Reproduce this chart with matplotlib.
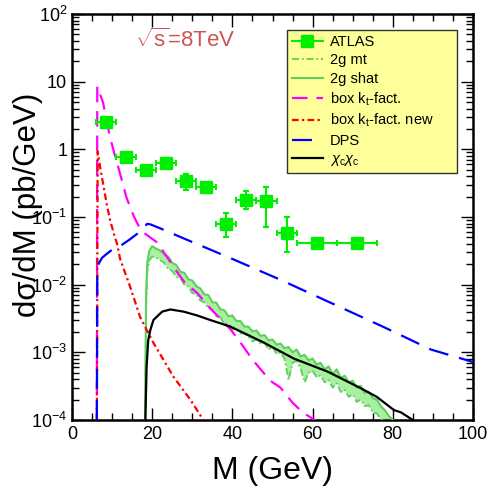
import numpy as np
import matplotlib
matplotlib.use("Agg")
import matplotlib.pyplot as plt
from matplotlib.lines import Line2D
from matplotlib.ticker import FixedLocator, FixedFormatter, LogLocator, NullFormatter, MultipleLocator

plt.rcParams['font.family'] = ['Liberation Sans', 'DejaVu Sans']
plt.rcParams['mathtext.fontset'] = 'custom'
plt.rcParams['mathtext.rm'] = 'Liberation Sans'
plt.rcParams['mathtext.it'] = 'Liberation Sans:italic'
plt.rcParams['mathtext.sf'] = 'Liberation Sans'

# ATLAS data: bin centres, half widths, cross sections and errors (pb/GeV)
atlas_m = [8.5, 13.5, 18.5, 23.5, 28.5, 33.5, 38.5, 43.5, 48.5, 53.5, 61.0, 71.0]
atlas_dm = [2.5, 2.5, 2.5, 2.5, 2.5, 2.5, 2.5, 2.5, 2.5, 2.5, 5.0, 5.0]
atlas_val = [2.5, 0.76, 0.49, 0.62, 0.34, 0.28, 0.08, 0.18, 0.17, 0.059, 0.041, 0.041]
atlas_lo = [0.3, 0.08, 0.07, 0.06, 0.09, 0.05, 0.03, 0.05, 0.10, 0.029, 0.006, 0.006]
atlas_hi = [0.3, 0.08, 0.06, 0.08, 0.09, 0.05, 0.035, 0.06, 0.11, 0.041, 0.006, 0.006]

# gluon-gluon fusion band: 2g shat (upper) and 2g mt (lower)
m_2g = [18.2, 18.5, 18.8, 19.3, 20, 21, 22, 23, 24, 25, 26, 27, 28, 29, 30, 31, 32, 33, 34, 35,
        36, 37, 38, 39, 40, 41, 42, 43, 44, 45, 46, 47, 48, 49, 50, 51, 52, 53, 54, 55,
        56, 57, 58, 59, 60, 61, 62, 63, 64, 65, 66, 67, 68, 69, 70, 71, 72, 73, 74, 75,
        76, 77, 78, 79, 80, 81]
shat_2g = [1e-4, 8e-3, 2.2e-2, 3.2e-2, 3.7e-2, 3.4e-2, 3.2e-2, 2.8e-2, 2.6e-2, 2.1e-2,
           1.95e-2, 1.55e-2, 1.5e-2, 1.2e-2, 1.15e-2, 9.5e-3, 8.8e-3, 7.2e-3, 7.0e-3, 5.5e-3,
           5.4e-3, 4.3e-3, 4.2e-3, 3.4e-3, 3.5e-3, 2.9e-3, 2.9e-3, 2.4e-3, 2.4e-3, 2.05e-3,
           2.1e-3, 1.75e-3, 1.8e-3, 1.5e-3, 1.55e-3, 1.3e-3, 1.35e-3, 1.15e-3, 1.2e-3, 1.0e-3,
           1.1e-3, 8.7e-4, 9.2e-4, 7.6e-4, 8.1e-4, 6.6e-4, 7.0e-4, 5.6e-4, 6.2e-4, 4.8e-4,
           5.6e-4, 4.2e-4, 4.5e-4, 3.6e-4, 3.8e-4, 3.0e-4, 3.2e-4, 2.5e-4, 2.6e-4, 2.1e-4,
           2.0e-4, 1.6e-4, 1.4e-4, 1.15e-4, 1.0e-4, 0.85e-4]
mt_2g = [1e-4, 5e-3, 1.6e-2, 2.3e-2, 2.6e-2, 2.5e-2, 2.3e-2, 2.1e-2, 1.7e-2, 1.6e-2,
         1.3e-2, 1.25e-2, 1.0e-2, 9.5e-3, 7.5e-3, 7.2e-3, 5.8e-3, 5.5e-3, 4.5e-3, 4.3e-3,
         3.4e-3, 3.3e-3, 2.6e-3, 2.6e-3, 2.2e-3, 2.2e-3, 1.9e-3, 1.9e-3, 1.7e-3, 1.45e-3,
         1.55e-3, 1.35e-3, 1.4e-3, 1.1e-3, 1.2e-3, 9.5e-4, 1.0e-3, 8.0e-4, 3.9e-4, 7.0e-4,
         7.5e-4, 5.8e-4, 3.6e-4, 5.0e-4, 5.3e-4, 4.3e-4, 4.6e-4, 3.6e-4, 3.9e-4, 3.0e-4,
         3.5e-4, 2.6e-4, 2.8e-4, 2.2e-4, 2.4e-4, 1.85e-4, 2.0e-4, 1.6e-4, 1.65e-4, 1.3e-4,
         1.25e-4, 1.05e-4, 0.95e-4, 0.85e-4, 0.75e-4, 0.65e-4]

# box contribution, kt-factorization
m_box = [6.2, 6.3, 7.0, 7.75, 8.5, 9.5, 10.5, 11.25, 12.0, 12.75, 13.5, 14.5, 15.5, 16.5, 18.0,
         19.5, 21.25, 22.75, 24.0, 26.0, 28.0, 31.25, 34.0, 36.0, 39.5, 42.0, 45.0, 48.0, 50.0,
         51.0, 52.0, 55.0, 57.5, 60.5]
box = [1e-4, 8.5, 6.5, 4.9, 2.9, 1.5, 0.9, 0.63, 0.43, 0.30, 0.2, 0.14, 0.1, 0.076, 0.058,
       0.05, 0.042, 0.031, 0.024, 0.016, 0.011, 0.0075, 0.0048, 0.0036, 0.0022, 0.0014, 7.8e-4,
       4.8e-4, 3.6e-4, 3.3e-4, 3.0e-4, 1.8e-4, 1.3e-4, 1e-4]

# box contribution, new kt-factorization
m_box_new = [6.2, 6.4, 7.0, 7.8, 8.7, 9.5, 10.5, 11.25, 12.0, 14.5, 17.0, 20.25, 25.25, 29.5, 32.75]
box_new = [1e-4, 0.93, 0.55, 0.3, 0.15, 0.09, 0.055, 0.04, 0.024, 0.0093, 0.0033, 0.0014,
           4.4e-4, 2.0e-4, 1e-4]

# double parton scattering
m_dps = [6.2, 6.3, 6.75, 7.5, 8.5, 10.3, 12.5, 14.5, 16.0, 17.0, 18.7, 19.5, 22.0, 27.25, 35.0,
         40.0, 52.0, 64.5, 77.5, 89.5, 100.0]
dps = [1e-4, 0.017, 0.021, 0.025, 0.028, 0.034, 0.039, 0.047, 0.055, 0.06, 0.079, 0.078, 0.068,
       0.05, 0.032, 0.024, 0.0118, 0.0054, 0.0024, 0.0011, 7.2e-4]

# chi_c chi_c feed-down
m_chic = [18.3, 18.6, 19.0, 19.5, 20.3, 21.25, 22.5, 24.5, 27.8, 31.25, 34.5, 39.5, 47.75, 55.3,
          63.7, 72.0, 76.0, 80.3, 82.0, 83.7, 85.0]
chic = [1e-4, 6e-4, 1.5e-3, 2.1e-3, 3.0e-3, 3.4e-3, 4.0e-3, 4.3e-3, 4.0e-3, 3.5e-3, 3.0e-3,
        2.4e-3, 1.4e-3, 8.1e-4, 5.2e-4, 2.95e-4, 2.2e-4, 1.4e-4, 1.3e-4, 1.12e-4, 1e-4]

ytick_vals = [1e-4, 1e-3, 1e-2, 1e-1, 1, 10, 100]
ytick_labels = [r'$10^{-4}$', r'$10^{-3}$', r'$10^{-2}$', r'$10^{-1}$', '1', '10', r'$10^{2}$']
xtick_vals = [0, 20, 40, 60, 80, 100]

fig = plt.figure(figsize=(4.87, 4.87), dpi=100)
ax = fig.add_axes([72 / 487, 67 / 487, 401 / 487, 406 / 487])

band_edge = '#5ccf5c'
ax.fill_between(m_2g, mt_2g, shat_2g, color='#a8f0a0', lw=0, zorder=2)
l_mt, = ax.plot(m_2g, mt_2g, color=band_edge, lw=1.3, ls=(0, (4, 1.5, 1, 1.5)), zorder=3,
                label='2g mt')
l_shat, = ax.plot(m_2g, shat_2g, color=band_edge, lw=1.5, zorder=3, label='2g shat')
l_box, = ax.plot(m_box, box, color='#ff00ff', lw=1.6, ls=(0, (7, 4)), zorder=4,
                 label=r'box k$_{\rm t}$-fact.')
l_new, = ax.plot(m_box_new, box_new, color='#ff0000', lw=1.6, ls=(0, (3, 1.5, 1, 1.5)), zorder=4,
                 label=r'box k$_{\rm t}$-fact. new')
l_dps, = ax.plot(m_dps, dps, color='#0000ff', lw=1.6, ls=(0, (9, 5)), zorder=4, label='DPS')
l_chic, = ax.plot(m_chic, chic, color='black', lw=1.6, zorder=4,
                  label=r'$\chi_{\rm c}\chi_{\rm c}$')

atlas_color = '#00ee00'
ax.errorbar(atlas_m, atlas_val, xerr=atlas_dm, yerr=[atlas_lo, atlas_hi], fmt='s',
            color=atlas_color, ms=8, elinewidth=1.5, capsize=2.5, capthick=1.5, zorder=6)
atlas_handle = Line2D([], [], color=atlas_color, marker='s', ms=8, lw=1.5, label='ATLAS')

ax.set_xlim(0, 100)
ax.set_ylim(1e-4, 100)
ax.set_yscale('log')
ax.xaxis.set_major_locator(FixedLocator(xtick_vals))
ax.xaxis.set_minor_locator(MultipleLocator(5))
ax.yaxis.set_major_locator(FixedLocator(ytick_vals))
ax.yaxis.set_major_formatter(FixedFormatter(ytick_labels))
ax.yaxis.set_minor_locator(LogLocator(base=10, subs=np.arange(2, 10), numticks=20))
ax.yaxis.set_minor_formatter(NullFormatter())
ax.tick_params(which='both', direction='in', top=True, right=True, labelsize=13, width=1.0)
ax.tick_params(which='major', length=9)
ax.tick_params(which='minor', length=5)
ax.tick_params(axis='x', which='major', pad=4)
for s in ax.spines.values():
    s.set_linewidth(1.8)

ax.set_xlabel('M (GeV)', fontsize=23, labelpad=10)
ax.set_ylabel('dσ/dM (pb/GeV)', fontsize=22.5)
ax.yaxis.set_label_coords(-0.072, 0.53)

ax.text(0.157, 0.935, r'$\sqrt{\mathrm{s}}$=8TeV', transform=ax.transAxes, fontsize=16,
        color='#cc5555', va='center', ha='left')

leg = ax.legend(handles=[atlas_handle, l_mt, l_shat, l_box, l_new, l_dps, l_chic],
                loc='upper left', bbox_to_anchor=(0.536, 0.9606, 0.424, 0.0), mode='expand',
                fontsize=10.5, labelspacing=0.3, handlelength=2.1, handletextpad=0.5,
                borderpad=0.35, borderaxespad=0.0, fancybox=False, framealpha=1.0,
                facecolor='#ffff99', edgecolor='#333333')
leg.get_frame().set_linewidth(1.0)

fig.savefig('out.png', dpi=100)
